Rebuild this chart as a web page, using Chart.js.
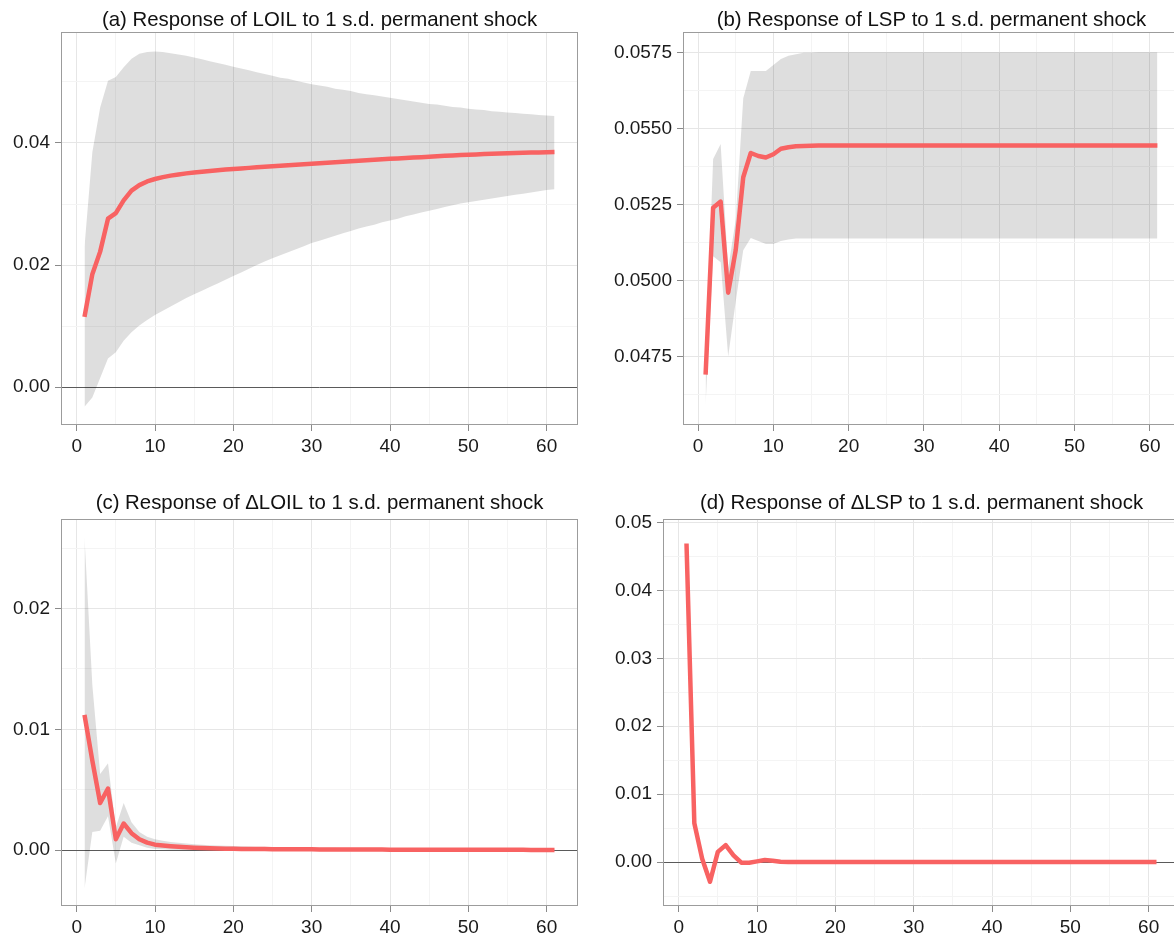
<!DOCTYPE html>
<html>
<head>
<meta charset="utf-8">
<script src="https://cdn.jsdelivr.net/npm/chart.js@4.4.1/dist/chart.umd.min.js"></script>
<style>
html, body { margin: 0; padding: 0; background: #fff; overflow: hidden; width: 1174px; height: 938px; }
canvas { position: absolute; }
</style>
</head>
<body>
<canvas id="loil" width="590" height="460" style="left:0px;top:0px"></canvas>
<canvas id="lsp" width="592" height="460" style="left:600px;top:0px"></canvas>
<canvas id="dloil" width="590" height="458" style="left:0px;top:480px"></canvas>
<canvas id="dlsp" width="592" height="458" style="left:600px;top:480px"></canvas>
<script>
// horizon 1..61
const periods = [1,2,3,4,5,6,7,8,9,10,11,12,13,14,15,16,17,18,19,20,21,22,23,24,25,26,27,28,29,30,
    31,32,33,34,35,36,37,38,39,40,41,42,43,44,45,46,47,48,49,50,51,52,53,54,55,56,57,58,59,60,61];

// (a) LOIL
const loil_irf = [0.0115,0.0185,0.0222,0.0276,0.0285,0.0306,0.0322,0.0331,0.0337,0.03410,
    0.03440,0.03465,0.03485,0.03502,0.03517,0.03530,0.03542,0.03553,0.03564,0.03574,
    0.03583,0.03592,0.03601,0.03610,0.03618,0.03626,0.03634,0.03642,0.03650,0.03658,
    0.03667,0.03676,0.03684,0.03692,0.03700,0.03708,0.03716,0.03724,0.03732,0.03740,
    0.03747,0.03754,0.03761,0.03768,0.03775,0.03782,0.03789,0.03796,0.03802,0.03808,
    0.03813,0.03818,0.03822,0.03826,0.03830,0.03834,0.03838,0.03842,0.03845,0.03848,0.03851];
const loil_upper = [0.0230,0.0385,0.0458,0.0502,0.0508,0.0524,0.0538,0.0546,0.0549,0.0550,
    0.0549,0.0547,0.0545,0.0543,0.0540,0.0537,0.0534,0.0531,0.0528,0.0525,
    0.0522,0.0519,0.0516,0.0513,0.0510,0.0507,0.0505,0.0502,0.0499,0.0496,
    0.0494,0.0492,0.0489,0.0487,0.0485,0.0482,0.0480,0.0478,0.0476,0.0474,
    0.0472,0.0470,0.0468,0.0466,0.0464,0.0463,0.0461,0.0459,0.0458,0.0456,
    0.0455,0.0454,0.0452,0.0451,0.0450,0.0449,0.0448,0.0447,0.0446,0.0445,0.0444];
const loil_lower = [-0.0032,-0.0017,0.0015,0.0047,0.0057,0.0076,0.0090,0.0101,0.0110,0.0118,
    0.0125,0.0132,0.0139,0.0146,0.0152,0.0158,0.0164,0.0170,0.0176,0.0182,
    0.0188,0.0194,0.0200,0.0206,0.0211,0.0216,0.0221,0.0226,0.0231,0.0236,
    0.0240,0.0244,0.0248,0.0252,0.0256,0.0260,0.0263,0.0266,0.0270,0.0273,
    0.0276,0.0280,0.0283,0.0286,0.0289,0.0292,0.0295,0.0298,0.0301,0.0303,
    0.0305,0.0307,0.0309,0.0311,0.0313,0.0315,0.0317,0.0319,0.0321,0.0323,0.0324];

// (b) LSP
const lsp_irf = [0.0469,0.0524,0.0526,0.0496,0.0510,0.0534,0.0542,0.0541,0.05405,0.05416,
    0.05434,0.05439,0.05442,0.05443,0.05444,0.05445,0.05445,0.05445,0.05445,0.05445,
    0.05445,0.05445,0.05445,0.05445,0.05445,0.05445,0.05445,0.05445,0.05445,0.05445,
    0.05445,0.05445,0.05445,0.05445,0.05445,0.05445,0.05445,0.05445,0.05445,0.05445,
    0.05445,0.05445,0.05445,0.05445,0.05445,0.05445,0.05445,0.05445,0.05445,0.05445,
    0.05445,0.05445,0.05445,0.05445,0.05445,0.05445,0.05445,0.05445,0.05445,0.05445,0.05445];
const lsp_upper = [0.0474,0.0540,0.0545,0.0504,0.0520,0.0560,0.0569,0.0569,0.0569,0.0571,
    0.0573,0.0574,0.05745,0.0575,0.0575,0.05752,0.05752,0.05752,0.05752,0.05752,
    0.05752,0.05752,0.05752,0.05752,0.05752,0.05752,0.05752,0.05752,0.05752,0.05752,
    0.05752,0.05752,0.05752,0.05752,0.05752,0.05752,0.05752,0.05752,0.05752,0.05752,
    0.05752,0.05752,0.05752,0.05752,0.05752,0.05752,0.05752,0.05752,0.05752,0.05752,
    0.05752,0.05752,0.05752,0.05752,0.05752,0.05752,0.05752,0.05752,0.05752,0.05752,0.05752];
const lsp_lower = [0.0459,0.0508,0.0506,0.0475,0.0493,0.0510,0.0514,0.0513,0.0512,0.0512,
    0.0513,0.05135,0.05138,0.05138,0.05138,0.05138,0.05138,0.05138,0.05138,0.05138,
    0.05138,0.05138,0.05138,0.05138,0.05138,0.05138,0.05138,0.05138,0.05138,0.05138,
    0.05138,0.05138,0.05138,0.05138,0.05138,0.05138,0.05138,0.05138,0.05138,0.05138,
    0.05138,0.05138,0.05138,0.05138,0.05138,0.05138,0.05138,0.05138,0.05138,0.05138,
    0.05138,0.05138,0.05138,0.05138,0.05138,0.05138,0.05138,0.05138,0.05138,0.05138,0.05138];

// (c) ΔLOIL
const dloil_irf = [0.0112,0.0074,0.0039,0.0051,0.0009,0.0022,0.0014,0.0009,0.00062,0.00045,
    0.00038,0.00032,0.00027,0.00023,0.00020,0.00017,0.00015,0.00013,0.00012,0.00011,
    0.000100,0.000095,0.000090,0.000085,0.000080,0.000076,0.000072,0.000068,0.000065,0.000062,
    0.000059,0.000056,0.000053,0.000050,0.000048,0.000046,0.000044,0.000042,0.000040,0.000038,
    0.000036,0.000034,0.000033,0.000032,0.000031,0.000030,0.000029,0.000028,0.000027,0.000026,
    0.000025,0.000024,0.000023,0.000022,0.000021,0.000020,0.000019,0.000018,0.000018,0.000017,0.000017];
const dloil_upper = [0.0259,0.0137,0.0063,0.0072,0.0019,0.0039,0.0023,0.0015,0.0011,0.00090,
    0.00078,0.00068,0.00060,0.00054,0.00049,0.00045,0.00041,0.00038,0.00035,0.00033,
    0.00031,0.00029,0.00028,0.00027,0.00026,0.00025,0.00024,0.00023,0.00022,0.00021,
    0.00020,0.00019,0.00019,0.00018,0.00018,0.00017,0.00017,0.00016,0.00016,0.00015,
    0.00015,0.00015,0.00014,0.00014,0.00014,0.00013,0.00013,0.00013,0.00012,0.00012,
    0.00012,0.00012,0.00011,0.00011,0.00011,0.00011,0.00010,0.00010,0.00010,0.00010,0.00010];
const dloil_lower = [-0.0032,0.0015,0.0016,0.0028,-0.0011,0.0011,0.0006,0.0004,0.0002,0.0001,
    0.00006,0.00003,0.00001,0.0000,0.0000,0.0000,0.0000,0.0000,0.0000,0.0000,
    0.0000,0.0000,0.0000,0.0000,0.0000,0.0000,0.0000,0.0000,0.0000,0.0000,
    0.0000,0.0000,0.0000,0.0000,0.0000,0.0000,0.0000,0.0000,0.0000,0.0000,
    0.0000,0.0000,0.0000,0.0000,0.0000,0.0000,0.0000,0.0000,0.0000,0.0000,
    0.0000,0.0000,0.0000,0.0000,0.0000,0.0000,0.0000,0.0000,0.0000,0.0000,0.0000];

// (d) ΔLSP
const dlsp_irf = [0.0469,0.0057,0.0005,-0.0029,0.0015,0.0025,0.0010,-0.0001,-0.0001,0.0001,
    0.0003,0.0002,0.00005,0.0000,0.0000,0.0000,0.0000,0.0000,0.0000,0.0000,
    0.0000,0.0000,0.0000,0.0000,0.0000,0.0000,0.0000,0.0000,0.0000,0.0000,
    0.0000,0.0000,0.0000,0.0000,0.0000,0.0000,0.0000,0.0000,0.0000,0.0000,
    0.0000,0.0000,0.0000,0.0000,0.0000,0.0000,0.0000,0.0000,0.0000,0.0000,
    0.0000,0.0000,0.0000,0.0000,0.0000,0.0000,0.0000,0.0000,0.0000,0.0000,0.0000];

Chart.defaults.font.family = "'Liberation Sans', Arial, sans-serif";
Chart.defaults.font.size = 19;
Chart.defaults.color = '#1a1a1a';

const line_color = 'rgb(248,98,98)';
const ribbon_color = 'rgba(0,0,0,0.13)';

// grey frame round the plotting area
const panel_border = {
    id: 'panel_border',
    afterDatasetsDraw(chart) {
        const a = chart.chartArea;
        const ctx = chart.ctx;
        ctx.save();
        ctx.strokeStyle = '#9c9c9c';
        ctx.lineWidth = 1;
        ctx.strokeRect(Math.round(a.left) + 0.5, Math.round(a.top) + 0.5,
            Math.round(a.right - a.left) - 1, Math.round(a.bottom - a.top) - 1);
        ctx.restore();
    }
};

function is_major(value, step)
{
    const r = value / step;
    return Math.abs(r - Math.round(r)) < 1e-6;
}

function make_panel(id, title, title_pad, irf, upper, lower, y)
{
    const datasets = [
        {
            data: irf,
            borderColor: line_color,
            borderWidth: 4.5,
            borderJoinStyle: 'round',
            pointRadius: 0,
            fill: false
        }
    ];
    if (upper)
    {
        datasets.push({ data: upper, borderWidth: 0, pointRadius: 0, backgroundColor: ribbon_color, fill: '+1' });
        datasets.push({ data: lower, borderWidth: 0, pointRadius: 0, fill: false });
    }

    return new Chart(document.getElementById(id), {
        type: 'line',
        data: { labels: periods, datasets: datasets },
        plugins: [panel_border],
        options: {
            responsive: false,
            animation: false,
            layout: { padding: { left: 0, right: 12, top: 0, bottom: 0 } },
            plugins: {
                legend: { display: false },
                tooltip: { enabled: false },
                title: {
                    display: true,
                    text: title,
                    fullSize: false,
                    color: '#111',
                    font: { size: 20.4, weight: 'normal' },
                    padding: title_pad
                }
            },
            scales: {
                x: {
                    type: 'linear',
                    min: -2,
                    max: 64,
                    border: { display: false },
                    grid: {
                        color: ctx => is_major(ctx.tick.value, 10) ? '#e6e6e6' : '#f4f4f4',
                        tickColor: ctx => is_major(ctx.tick.value, 10) ? '#8a8a8a' : 'rgba(0,0,0,0)',
                        tickLength: 6
                    },
                    ticks: {
                        stepSize: 5,
                        includeBounds: false,
                        autoSkip: false,
                        maxRotation: 0,
                        padding: 4,
                        callback: v => is_major(v, 10) ? String(v) : ''
                    },
                    afterFit: s => { s.height = y.x_height; }
                },
                y: {
                    min: y.min,
                    max: y.max,
                    border: { display: false },
                    grid: {
                        color: ctx => Math.abs(ctx.tick.value) < 1e-12 ? '#5a5a5a'
                            : (is_major(ctx.tick.value, y.major) ? '#e6e6e6' : '#f4f4f4'),
                        tickColor: ctx => is_major(ctx.tick.value, y.major) ? '#8a8a8a' : 'rgba(0,0,0,0)',
                        tickLength: 6
                    },
                    ticks: {
                        stepSize: y.major / 2,
                        includeBounds: false,
                        autoSkip: false,
                        padding: 5,
                        callback: v => is_major(v, y.major) ? (Math.abs(v) < 1e-12 ? 0 : v).toFixed(y.digits) : ''
                    },
                    afterFit: s => { s.width = y.width; }
                }
            }
        }
    });
}

make_panel('loil', '(a) Response of LOIL to 1 s.d. permanent shock', { top: 8, bottom: 0 },
    loil_irf, loil_upper, loil_lower,
    { min: -0.0062, max: 0.0581, major: 0.02, digits: 2, width: 61, x_height: 35 });

make_panel('lsp', '(b) Response of LSP to 1 s.d. permanent shock', { top: 8, bottom: 0 },
    lsp_irf, lsp_upper, lsp_lower,
    { min: 0.04524, max: 0.05817, major: 0.0025, digits: 4, width: 83, x_height: 35 });

make_panel('dloil', '(c) Response of \u0394LOIL to 1 s.d. permanent shock', { top: 11, bottom: 4 },
    dloil_irf, dloil_upper, dloil_lower,
    { min: -0.00463, max: 0.02738, major: 0.01, digits: 2, width: 61, x_height: 32 });

make_panel('dlsp', '(d) Response of \u0394LSP to 1 s.d. permanent shock', { top: 11, bottom: 4 },
    dlsp_irf, null, null,
    { min: -0.00647, max: 0.05044, major: 0.01, digits: 2, width: 63, x_height: 32 });
</script>
</body>
</html>
